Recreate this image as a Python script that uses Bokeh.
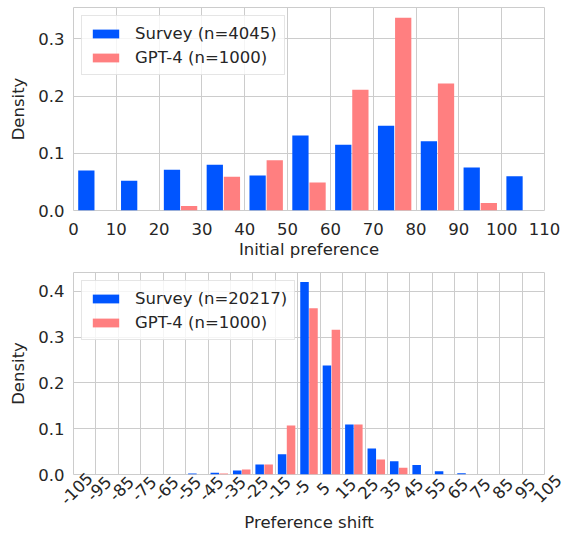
import math
from bokeh.plotting import figure
from bokeh.layouts import column
from bokeh.models import Range1d, FixedTicker, PrintfTickFormatter, ColumnDataSource
from bokeh.core.properties import value
from bokeh.transform import dodge
from bokeh.embed import file_html
from bokeh.resources import INLINE

# ---- data ----
bin_width = 10
init_bin_left = [0, 10, 20, 30, 40, 50, 60, 70, 80, 90, 100]
init_survey = [0.070, 0.052, 0.071, 0.080, 0.061, 0.131, 0.115, 0.148, 0.121, 0.075, 0.060]
init_gpt4 = [0.0, 0.0, 0.008, 0.059, 0.088, 0.049, 0.211, 0.337, 0.222, 0.013, 0.0]
init_ticks = [0, 10, 20, 30, 40, 50, 60, 70, 80, 90, 100, 110]

shift_bin_left = [-105, -95, -85, -75, -65, -55, -45, -35, -25, -15, -5,
                  5, 15, 25, 35, 45, 55, 65, 75, 85, 95]
shift_survey = [0.0, 0.0, 0.0, 0.0, 0.0, 0.002, 0.004, 0.009, 0.022, 0.044, 0.420,
                0.238, 0.109, 0.057, 0.029, 0.021, 0.007, 0.003, 0.0, 0.0, 0.0]
shift_gpt4 = [0.0, 0.0, 0.0, 0.0, 0.0, 0.0, 0.002, 0.011, 0.022, 0.107, 0.363,
              0.316, 0.109, 0.033, 0.015, 0.0, 0.0, 0.0, 0.0, 0.0, 0.0]
shift_ticks = [-105, -95, -85, -75, -65, -55, -45, -35, -25, -15, -5,
               5, 15, 25, 35, 45, 55, 65, 75, 85, 95, 105]
shift_tick_labels = ["-105", "-95", "-85", "-75", "-65", "-55", "-45", "-35", "-25", "-15", "-5",
                     "5", "15", "25", "35", "45", "55", "65", "75", "85", "95", "105"]

BLUE = "#0055FF"
RED = "#FF7F80"
GRID = "#CCCCCC"
TXT = "#262626"
FONT = "DejaVu Sans"
FS = "16.5px"

W = 568
BL, BR = 73, 24   # left / right borders (frame from 73 to 544 px)


def style(p, xticks, yticks):
    p.outline_line_color = GRID
    p.outline_line_width = 1
    p.xgrid.grid_line_color = GRID
    p.ygrid.grid_line_color = GRID
    p.xgrid.grid_line_width = 1
    p.ygrid.grid_line_width = 1
    p.xaxis.ticker = FixedTicker(ticks=xticks)
    p.yaxis.ticker = FixedTicker(ticks=yticks)
    p.xgrid.ticker = FixedTicker(ticks=xticks)
    p.yaxis.formatter = PrintfTickFormatter(format="%.1f")
    for ax in (p.xaxis[0], p.yaxis[0]):
        ax.axis_line_color = None
        ax.major_tick_line_color = None
        ax.minor_tick_line_color = None
        ax.major_tick_out = 0
        ax.major_tick_in = 0
        ax.major_label_text_font = FONT
        ax.major_label_text_font_size = FS
        ax.major_label_text_color = TXT
        ax.axis_label_text_font = FONT
        ax.axis_label_text_font_size = FS
        ax.axis_label_text_font_style = "normal"
        ax.axis_label_text_color = TXT
    p.yaxis.major_label_standoff = 9
    p.yaxis.axis_label_standoff = 7


def bars(p, left, survey, gpt4, lab_s, lab_g):
    centers = [l + bin_width / 2 for l in left]
    src = ColumnDataSource(dict(x=centers, survey=survey, gpt4=gpt4))
    w = bin_width * 0.8 / 2
    p.vbar(x=dodge("x", -w / 2), top="survey", width=w - 0.2, source=src,
           fill_color=BLUE, line_color=None, legend_label=lab_s)
    p.vbar(x=dodge("x", w / 2), top="gpt4", width=w - 0.2, source=src,
           fill_color=RED, line_color=None, legend_label=lab_g)
    lg = p.legend[0]
    lg.location = "top_left"
    lg.margin = 8
    lg.padding = 7
    lg.spacing = 4
    lg.glyph_width = 33
    lg.glyph_height = 11
    lg.label_height = 20
    lg.label_standoff = 13
    lg.label_text_font = FONT
    lg.label_text_font_size = FS
    lg.label_text_color = TXT
    lg.border_line_color = GRID
    lg.border_line_width = 1
    lg.background_fill_alpha = 0.8


# ---- top panel ----
p1 = figure(width=W, height=262, output_backend="svg", toolbar_location=None,
            x_range=Range1d(0, 110), y_range=Range1d(0, 0.3547),
            min_border_left=BL, min_border_right=BR, min_border_top=7, min_border_bottom=52)
style(p1, init_ticks, [0.0, 0.1, 0.2, 0.3])
p1.xaxis.axis_label = "Initial preference"
p1.yaxis.axis_label = "Density"
p1.xaxis.major_label_standoff = 12
p1.xaxis.axis_label_standoff = 2
bars(p1, init_bin_left, init_survey, init_gpt4, "Survey (n=4045)", "GPT-4 (n=1000)")

# ---- bottom panel (bars) ----
OVER = 16
p2 = figure(width=W, height=212 + OVER, output_backend="svg", toolbar_location=None,
            x_range=Range1d(-105, 105), y_range=Range1d(0, 0.441),
            min_border_left=BL, min_border_right=BR, min_border_top=10, min_border_bottom=OVER)
style(p2, shift_ticks, [0.0, 0.1, 0.2, 0.3, 0.4])
p2.xaxis.visible = False
p2.yaxis.axis_label = "Density"
bars(p2, shift_bin_left, shift_survey, shift_gpt4, "Survey (n=20217)", "GPT-4 (n=1000)")

# ---- transparent strip under the bottom panel: rotated tick labels centred on ticks + axis title ----
LIFT = OVER + 4
H3 = 62
k = (p2.x_range.end - p2.x_range.start) / (W - BL - BR)
p3 = figure(width=W, height=H3, output_backend="svg", toolbar_location=None,
            x_range=Range1d(p2.x_range.start - BL * k, p2.x_range.end + BR * k),
            y_range=Range1d(0, H3),
            min_border_left=0, min_border_right=0, min_border_top=0, min_border_bottom=0)
p3.axis.visible = False
p3.grid.visible = False
p3.outline_line_color = None
p3.background_fill_color = None
p3.border_fill_color = None
tick_src = ColumnDataSource(dict(x=shift_ticks, text=shift_tick_labels))
p3.text(x="x", y=44, text="text", source=tick_src, angle=math.pi / 4,
        text_align="center", text_baseline="middle", x_offset=3,
        text_font=value(FONT), text_font_size=FS, text_color=TXT)
p3.text(x=[(p2.x_range.start + p2.x_range.end) / 2], y=10, text=["Preference shift"],
        text_align="center", text_baseline="middle",
        text_font=value(FONT), text_font_size=FS, text_color=TXT)

layout = column(p1, p2, column(p3, margin=(-LIFT, 0, 0, 0)), spacing=0)
open("out.html", "w").write(file_html(layout, INLINE))
